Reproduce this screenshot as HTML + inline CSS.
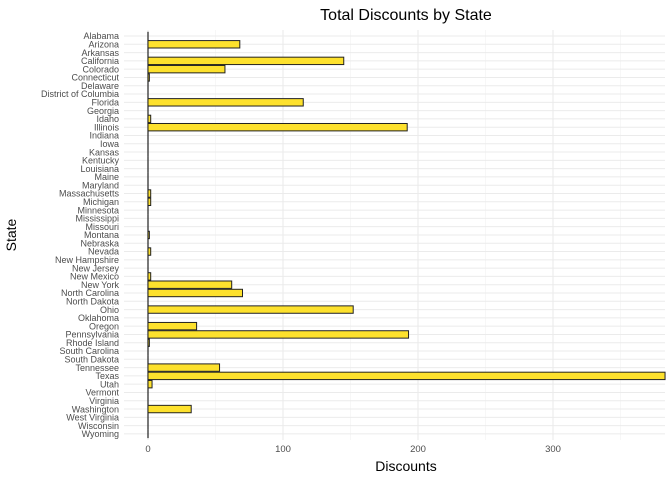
<!DOCTYPE html>
<html><head><meta charset="utf-8"><style>
body{margin:0;background:#fff;font-family:"Liberation Sans",sans-serif}
</style></head><body>
<svg id="chart" width="672" height="480" xmlns="http://www.w3.org/2000/svg" font-family="Liberation Sans, sans-serif">
<rect width="672" height="480" fill="#fff"/>
<text x="406" y="20" font-size="16" text-anchor="middle" fill="#000">Total Discounts by State</text>
<text x="406" y="471" font-size="14" text-anchor="middle" fill="#000">Discounts</text>
<text x="0" y="0" font-size="14" text-anchor="middle" fill="#000" transform="translate(16,235) rotate(-90)">State</text>
<g id="grid"></g><g id="bars"></g><g id="labels"></g>
</svg>
<script>
const states=["Alabama","Arizona","Arkansas","California","Colorado","Connecticut","Delaware","District of Columbia","Florida","Georgia","Idaho","Illinois","Indiana","Iowa","Kansas","Kentucky","Louisiana","Maine","Maryland","Massachusetts","Michigan","Minnesota","Mississippi","Missouri","Montana","Nebraska","Nevada","New Hampshire","New Jersey","New Mexico","New York","North Carolina","North Dakota","Ohio","Oklahoma","Oregon","Pennsylvania","Rhode Island","South Carolina","South Dakota","Tennessee","Texas","Utah","Vermont","Virginia","Washington","West Virginia","Wisconsin","Wyoming"];
const discounts=[0,68,0,145,57,1,0,0,115,0,2,192,0,0,0,0,0,0,0,2,2,0,0,0,1,0,2,0,0,2,62,70,0,152,0,36,193,1,0,0,53,383,3,0,0,32,0,0,0];
const xTicks=[0,100,200,300];
const ns="http://www.w3.org/2000/svg";
const x0=148,sx=1.35,y0=36,step=8.29,pl=124,pr=665,pt=30,pb=440;
const X=v=>x0+v*sx, Y=i=>y0+i*step;
function mk(t,a,p){const e=document.createElementNS(ns,t);for(const k in a)e.setAttribute(k,a[k]);p.appendChild(e);return e;}
const grid=document.getElementById('grid'),bars=document.getElementById('bars'),labels=document.getElementById('labels');
for(let v=50;X(v)<pr;v+=100){const l=mk('line',{x1:X(v),x2:X(v),y1:pt,y2:pb,stroke:'#f2f2f2','stroke-width':0.6},grid);

}
states.forEach((s,i)=>{const l=mk('line',{x1:pl,x2:pr,y1:Y(i),y2:Y(i),stroke:'#ebebeb','stroke-width':1},grid);

});
xTicks.forEach(v=>{const l=mk('line',{x1:X(v),x2:X(v),y1:pt,y2:pb,stroke:'#ebebeb','stroke-width':1.1},grid);


const t=mk('text',{x:X(v),y:452,'font-size':9.5,'text-anchor':'middle',fill:'#4d4d4d'},labels);t.textContent=v;

});
states.forEach((s,i)=>{const h=7.4,v=discounts[i];
const z=mk('line',{x1:X(0),x2:X(0),y1:Y(i)-h/2-0.5,y2:Y(i)+h/2+0.5,stroke:'#222','stroke-width':1.2},bars);


const r=mk('rect',{x:X(0),y:Y(i)-h/2,width:Math.max(0,X(v)-X(0)),height:h,fill:'#fde12d',stroke:'#222','stroke-width':1},bars);


const t=mk('text',{x:119,y:Y(i)+3.2,'font-size':9,'text-anchor':'end',fill:'#4d4d4d'},labels);t.textContent=s;

});
</script>
</body></html>
